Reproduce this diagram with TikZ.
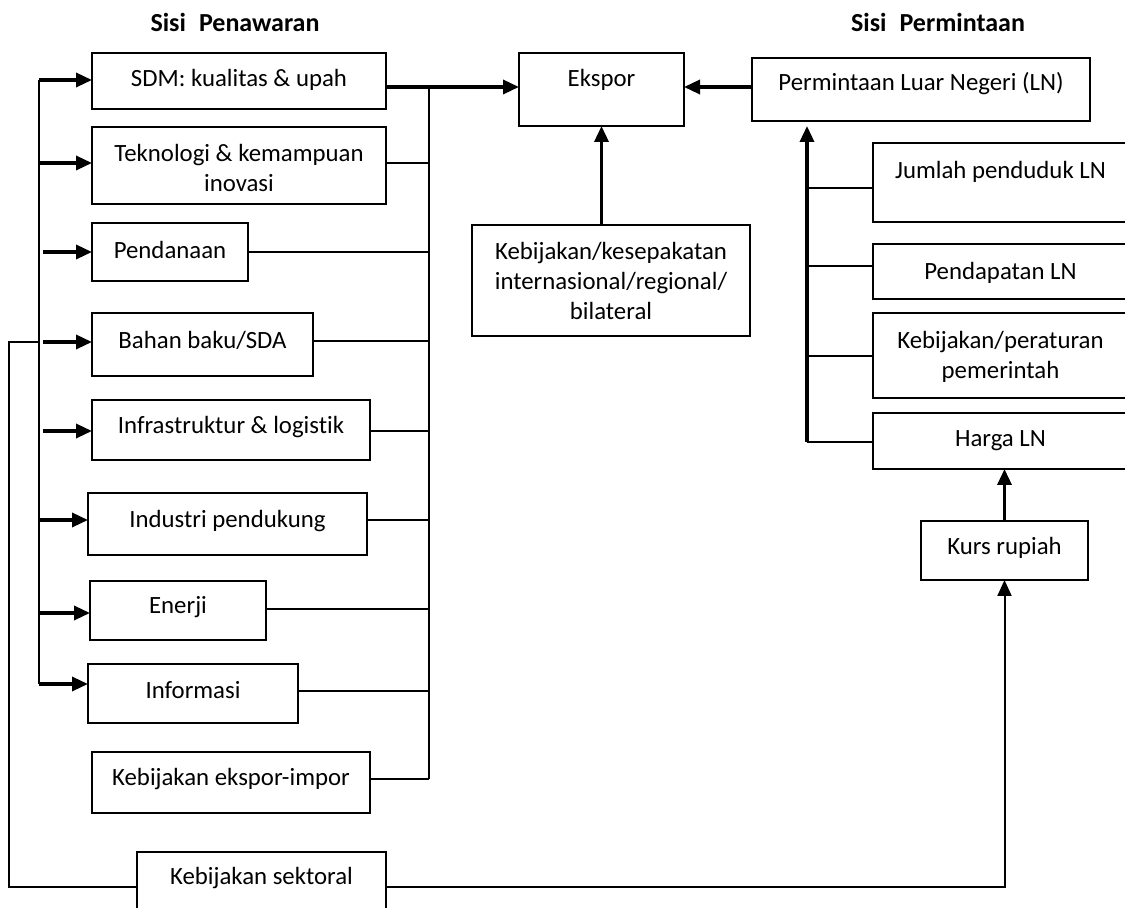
\documentclass[tikz,border=0pt]{standalone}
\usepackage{fontspec}
\setmainfont{Carlito}[Ligatures=NoCommon]
\usetikzlibrary{arrows.meta}
\tikzset{
  box/.style={draw, line width=1pt, inner sep=0pt, outer sep=0pt, rectangle},
  txt/.style={font=\fontsize{12.4}{15}\selectfont, align=center, inner sep=0pt},
  ttl/.style={font=\fontsize{13}{16}\selectfont\bfseries, inner sep=0pt},
  ln/.style={line width=1pt},
  thk/.style={line width=1.7pt},
  arr/.style={-{Triangle[length=8pt,width=7pt]}},
}
\newcommand\bx[7]{%
  \node[box, minimum width={(#4-#2)*0.5pt}, minimum height={(#5-#3)*0.5pt},
    label={[txt, yshift=#6pt]center:{#7}}] (#1) at ({(#2+#4)/2},{(#3+#5)/2}) {};}
\begin{document}
\begin{tikzpicture}[x=0.5pt,y=-0.5pt]
\useasboundingbox (0,0) rectangle (1125,908);
\clip (0,0) rectangle (1125,908);
% titles
\node[ttl] (t1) at (235,22) {Sisi\hspace{0.5em}Penawaran};
\node[ttl] (t2) at (938,22) {Sisi\hspace{0.5em}Permintaan};
% supply side boxes
\bx{sdm}{92}{53}{386}{109}{0.5}{SDM: kualitas \& upah}
\bx{tek}{92}{127}{386}{204}{-1.25}{Teknologi \& kemampuan\\inovasi}
\bx{pend}{92}{223}{248}{281}{1}{Pendanaan}
\bx{bahan}{92}{313}{313}{376}{2.25}{Bahan baku/SDA}
\bx{infra}{92}{400}{370}{460}{1.5}{Infrastruktur \& logistik}
\bx{ind}{88}{493}{367}{555}{1.5}{Industri pendukung}
\bx{ener}{90}{581}{266}{640}{1.75}{Enerji}
\bx{info}{88}{664}{298}{723}{1.75}{Informasi}
\bx{kei}{92}{752}{370}{813}{1.75}{Kebijakan ekspor-impor}
\bx{sek}{137}{852}{386}{912}{2}{Kebijakan sektoral}
% centre
\bx{eks}{519}{53}{684}{126}{4.75}{Ekspor}
\bx{kes}{472}{225}{750}{336}{-0.25}{Kebijakan/kesepakatan\\internasional/regional/\\bilateral}
% demand side
\bx{pln}{752}{58}{1090}{121}{2.75}{Permintaan Luar Negeri (LN)}
\bx{jum}{873}{143}{1128}{222}{5.25}{Jumlah penduduk LN}
\bx{pdp}{873}{244}{1128}{299}{-0.5}{Pendapatan LN}
\bx{per}{873}{313}{1128}{398}{-0.5}{Kebijakan/peraturan\\pemerintah}
\bx{hrg}{873}{413}{1128}{469}{0}{Harga LN}
\bx{kurs}{921}{521}{1088}{580}{1.25}{Kurs rupiah}
% left bus
\coordinate (bl) at (39,80);
\coordinate (bl2) at (43,80);
\draw[ln] (bl) -- (bl |- 0,684);
\draw[thk,arr] (bl) -- (sdm.west |- bl);
\draw[thk,arr] (bl |- 0,163) -- (tek.west |- 0,163);
\draw[thk,arr] (bl2 |- 0,252) -- (pend.west |- 0,252);
\draw[thk,arr] (bl2 |- 0,342) -- (bahan.west |- 0,342);
\draw[thk,arr] (bl2 |- 0,431) -- (infra.west |- 0,431);
\draw[thk,arr] (bl |- 0,520) -- (ind.west |- 0,520);
\draw[thk,arr] (bl |- 0,613) -- (ener.west |- 0,613);
\draw[thk,arr] (bl |- 0,684) -- (info.west |- 0,684);
% right bus of supply side
\coordinate (br) at (429,87);
\draw[ln] (br) -- (br |- 0,779);
\draw[thk,arr] (sdm.east |- br) -- (eks.west |- br);
\draw[ln] (tek.east |- 0,163) -- (br |- 0,163);
\draw[ln] (pend.east |- 0,252) -- (br |- 0,252);
\draw[ln] (bahan.east |- 0,341) -- (br |- 0,341);
\draw[ln] (infra.east |- 0,431) -- (br |- 0,431);
\draw[ln] (ind.east |- 0,520) -- (br |- 0,520);
\draw[ln] (ener.east |- 0,609) -- (br |- 0,609);
\draw[ln] (info.east |- 0,691) -- (br |- 0,691);
\draw[ln] (kei.east |- 0,779) -- (br |- 0,779);
% into Ekspor
\draw[thk,arr] (pln.west |- br) -- (eks.east |- br);
\draw[thk,arr] (kes.north -| eks.south) -- (eks.south);
% demand side bus
\coordinate (rv) at (807,442);
\draw[thk,arr] (rv) -- (rv |- 0,126);
\draw[ln] (rv |- 0,188) -- (jum.west |- 0,188);
\draw[ln] (rv |- 0,266) -- (pdp.west |- 0,266);
\draw[ln] (rv |- 0,356) -- (per.west |- 0,356);
\draw[ln] (rv) -- (hrg.west |- rv);
\draw[thk,arr] (kurs.north) -- (kurs.north |- hrg.south);
% outer loop
\coordinate (ol) at (9,342);
\draw[ln] (bl |- ol) -- (ol) -- (ol |- 0,887) -- (sek.west |- 0,887);
\draw[ln,arr] (sek.east |- 0,887) -- (kurs.south |- 0,887) -- (kurs.south);
\end{tikzpicture}
\end{document}
